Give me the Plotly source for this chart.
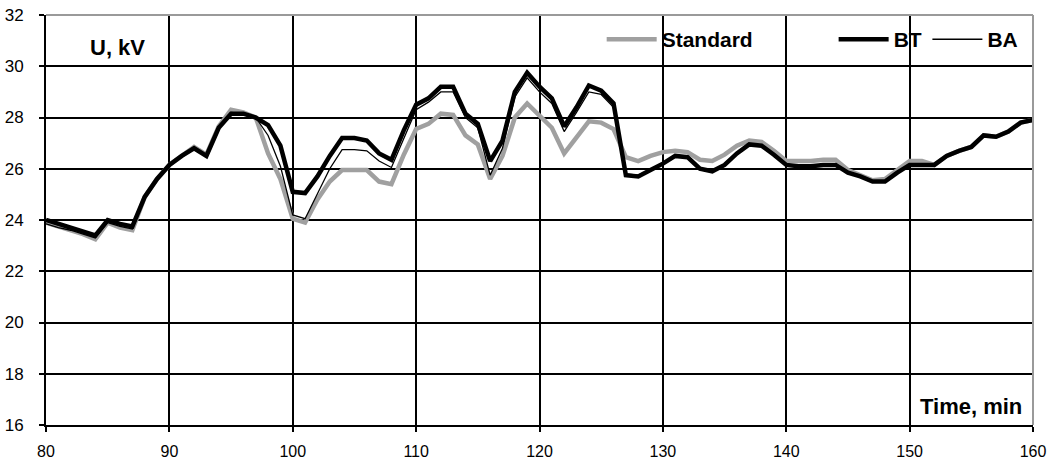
import plotly.graph_objects as go

minutes = list(range(80, 161))

standard = [23.9, 23.75, 23.6, 23.45, 23.25, 23.9, 23.7, 23.6, 24.9, 25.6,
            26.15, 26.5, 26.85, 26.55, 27.65, 28.3, 28.2, 28.0, 26.6, 25.6,
            24.05, 23.9, 24.8, 25.5, 25.95, 25.95, 25.95, 25.5, 25.4, 26.55,
            27.55, 27.75, 28.15, 28.1, 27.3, 26.95, 25.6, 26.5, 28.0, 28.55,
            28.1, 27.6, 26.6, 27.25, 27.85, 27.8, 27.55, 26.45, 26.3, 26.5,
            26.65, 26.7, 26.65, 26.35, 26.3, 26.55, 26.9, 27.1, 27.05, 26.7,
            26.3, 26.3, 26.3, 26.35, 26.35, 25.95, 25.75, 25.55, 25.6, 25.95,
            26.3, 26.3, 26.15, 26.5, 26.7, 26.85, 27.3, 27.25, 27.45, 27.8,
            27.9]

bt = [24.0, 23.85, 23.7, 23.55, 23.4, 24.0, 23.85, 23.75, 24.9, 25.6,
      26.15, 26.5, 26.8, 26.5, 27.6, 28.15, 28.15, 28.0, 27.7, 26.9,
      25.1, 25.05, 25.7, 26.5, 27.2, 27.2, 27.1, 26.6, 26.35, 27.5,
      28.5, 28.75, 29.2, 29.2, 28.15, 27.75, 26.3, 27.1, 29.0, 29.75,
      29.2, 28.75, 27.65, 28.4, 29.25, 29.05, 28.55, 25.75, 25.7, 25.95,
      26.2, 26.5, 26.45, 26.0, 25.9, 26.15, 26.6, 26.95, 26.9, 26.55,
      26.15, 26.1, 26.1, 26.15, 26.15, 25.85, 25.7, 25.5, 25.5, 25.85,
      26.15, 26.15, 26.15, 26.5, 26.7, 26.85, 27.3, 27.25, 27.45, 27.8,
      27.9]

ba = [23.85, 23.7, 23.6, 23.45, 23.3, 23.9, 23.75, 23.65, 24.9, 25.6,
      26.15, 26.5, 26.8, 26.5, 27.6, 28.2, 28.15, 28.0, 27.3, 26.1,
      24.2, 24.05, 25.0, 26.0, 26.75, 26.75, 26.7, 26.3, 26.05, 27.2,
      28.3, 28.6, 29.0, 29.0, 28.0, 27.6, 25.75, 26.8, 28.8, 29.55,
      29.0, 28.55, 27.45, 28.2, 29.0, 28.9, 28.4, 25.8, 25.75, 25.95,
      26.2, 26.5, 26.45, 26.0, 25.9, 26.15, 26.6, 26.95, 26.9, 26.55,
      26.15, 26.1, 26.1, 26.15, 26.15, 25.85, 25.7, 25.5, 25.5, 25.85,
      26.15, 26.15, 26.15, 26.5, 26.7, 26.85, 27.3, 27.25, 27.45, 27.8,
      27.9]

x_ticks = list(range(80, 161, 10))
y_ticks = list(range(16, 33, 2))

FONT = "Liberation Sans, Arial, sans-serif"

fig = go.Figure()
fig.add_trace(go.Scatter(x=minutes, y=standard, mode="lines", name="<b>Standard</b>",
                         line=dict(color="#a0a0a0", width=4.5), legend="legend"))
fig.add_trace(go.Scatter(x=minutes, y=bt, mode="lines", name="<b>BT</b>",
                         line=dict(color="#000000", width=4.5), legend="legend2"))
fig.add_trace(go.Scatter(x=minutes, y=ba, mode="lines", name="<b>BA</b>",
                         line=dict(color="#000000", width=1.3), legend="legend3"))

leg_common = dict(orientation="h", yanchor="middle", xanchor="left", y=0.94,
                  bgcolor="rgba(0,0,0,0)", borderwidth=0, itemwidth=50,
                  font=dict(family=FONT, size=21, color="#000"))

fig.update_layout(
    width=1056, height=464,
    margin=dict(l=46, r=23, t=15, b=39),
    paper_bgcolor="white", plot_bgcolor="white",
    showlegend=True,
    legend=dict(x=0.563, **leg_common),
    legend2=dict(x=0.798, **leg_common),
    legend3=dict(x=0.893, **leg_common),
    xaxis=dict(range=[80, 160], tickvals=x_ticks, ticktext=[str(v) for v in x_ticks],
               showgrid=True, gridcolor="#000", gridwidth=1.5,
               showline=True, linecolor="#000", linewidth=2,
               ticks="outside", ticklen=5, tickcolor="#000", tickwidth=1.5,
               ticklabelstandoff=6, automargin=False,
               tickfont=dict(family=FONT, size=16, color="#000"), zeroline=False),
    yaxis=dict(range=[16, 32], tickvals=y_ticks, ticktext=[str(v) for v in y_ticks],
               showgrid=True, gridcolor="#000", gridwidth=1.5,
               showline=True, linecolor="#000", linewidth=2,
               ticks="outside", ticklen=5, tickcolor="#000", tickwidth=1.5,
               ticklabelstandoff=12, automargin=False,
               tickfont=dict(family=FONT, size=17, color="#000"), zeroline=False),
    shapes=[
        dict(type="rect", xref="paper", yref="paper", x0=0.56, x1=0.995, y0=0.895, y1=0.985,
             fillcolor="white", line=dict(width=0), layer="between"),
        dict(type="line", xref="paper", yref="paper", x0=0, x1=1, y0=1, y1=1,
             line=dict(color="#9a9a9a", width=2), layer="above"),
        dict(type="line", xref="paper", yref="paper", x0=1, x1=1, y0=0, y1=1,
             line=dict(color="#9a9a9a", width=2), layer="above"),
    ],
    annotations=[
        dict(text="<b>U, kV</b>", xref="paper", yref="paper", x=0.072, y=0.92,
             xanchor="center", yanchor="middle", showarrow=False,
             font=dict(family=FONT, size=22, color="#000")),
        dict(text="<b>Time, min</b>", xref="paper", yref="paper", x=0.937, y=0.046,
             xanchor="center", yanchor="middle", showarrow=False,
             font=dict(family=FONT, size=22, color="#000")),
    ],
)

fig.write_html("out.html")
